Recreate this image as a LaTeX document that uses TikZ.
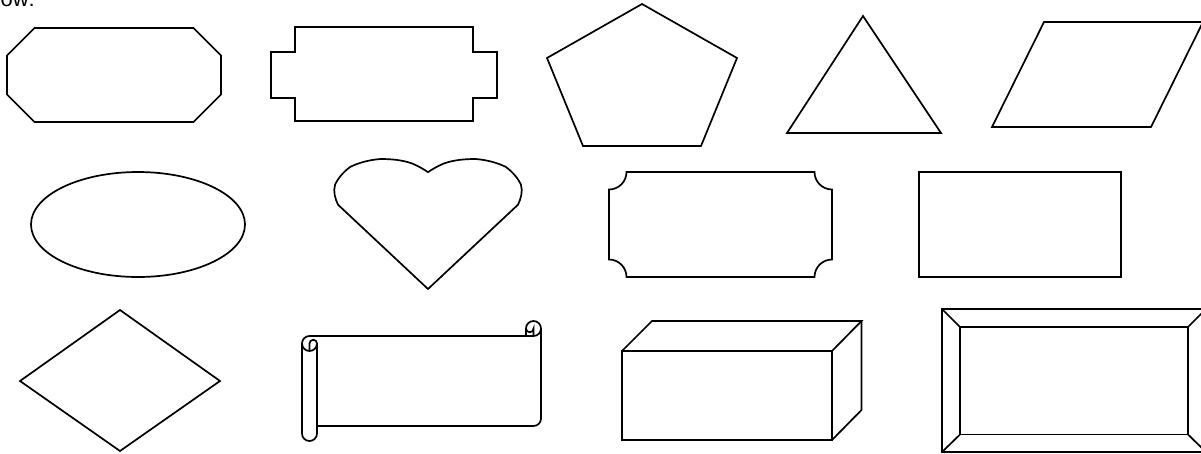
\documentclass[tikz,border=0pt]{standalone}
\usepackage{fontspec}
\setmainfont{Liberation Sans}
\begin{document}
\begin{tikzpicture}[x=1pt,y=-1pt,
  shp/.style={draw=black, line width=1.7pt, line join=miter},
  lbl/.style={inner sep=0pt, font=\fontsize{22}{26}\selectfont}]
\useasboundingbox (0,0) rectangle (1201,453);
\clip (0,0) rectangle (1201,453);
% cropped caption text
\node[lbl, anchor=base east] (txt) at (35,6) {ow:};
% octagon
\draw[shp] (34.5,28) -- (193.5,28) -- (221,55.5) -- (221,94.5) -- (193.5,122) -- (34.5,122) -- (7,94.5) -- (7,55.5) -- cycle;
% notched rectangle
\draw[shp] (295,27) -- (473,27) -- (473,52) -- (497,52) -- (497,98) -- (473,98) -- (473,121) -- (295,121) -- (295,98) -- (271,98) -- (271,52) -- (295,52) -- cycle;
% pentagon
\draw[shp] (642,4) -- (737,58) -- (701,146) -- (583,146) -- (547,58) -- cycle;
% triangle
\draw[shp] (863,16) -- (941,133) -- (787,133) -- cycle;
% parallelogram
\draw[shp] (1044,22) -- (1203,22) -- (1151,127) -- (992,127) -- cycle;
% ellipse
\draw[shp] (138,224.5) ellipse [x radius=107, y radius=52.5];
% heart
\draw[shp] (428,172.2)
  .. controls (424.4,169.5) and (416.4,165.1) .. (411.9,163.4)
  .. controls (401.8,159.9) and (391.5,159) .. (380.4,159)
  .. controls (369.5,159.9) and (359.2,162.5) .. (350.2,166.9)
  .. controls (343.1,172.2) and (338,178.4) .. (335.1,184.4)
  .. controls (333,191.6) and (335.1,198.5) .. (338,204.7)
  -- (428,289) -- (518,204.7)
  .. controls (520.9,198.5) and (523,191.6) .. (520.9,184.4)
  .. controls (518,178.4) and (512.9,172.2) .. (505.8,166.9)
  .. controls (496.8,162.5) and (486.5,159.9) .. (475.6,159)
  .. controls (464.5,159) and (454.2,159.9) .. (444.1,163.4)
  .. controls (439.6,165.1) and (431.6,169.5) .. cycle;
% plaque
\draw[shp] (626.5,172) -- (814.5,172) arc[start angle=180, end angle=90, radius=17.5]
  -- (832,259.5) arc[start angle=270, end angle=180, radius=17.5]
  -- (626.5,277) arc[start angle=0, end angle=-90, radius=17.5]
  -- (609,189.5) arc[start angle=90, end angle=0, radius=17.5] -- cycle;
% rectangle
\draw[shp] (919,172) rectangle (1121,277);
% diamond
\draw[shp] (120,310) -- (220,381) -- (120,451) -- (20,381) -- cycle;
% horizontal scroll
\draw[shp] (302,343.5) arc[start angle=180, end angle=270, radius=7.5] -- (526,336) -- (526,328.5)
  arc[start angle=180, end angle=360, radius=7.5] -- (541,418.5)
  arc[start angle=0, end angle=90, radius=7.5] -- (317,426) -- (317,433.5)
  arc[start angle=0, end angle=180, radius=7.5] -- cycle;
\draw[shp] (526,336) -- (533.5,336) arc[start angle=90, end angle=0, radius=7.5];
\draw[shp] (533.5,336) -- (533.5,328.5) arc[start angle=0, end angle=180, radius=3.75];
\draw[shp] (309.5,351) -- (309.5,343.5) arc[start angle=180, end angle=360, radius=3.75]
  arc[start angle=0, end angle=180, radius=7.5];
\draw[shp] (317,343.5) -- (317,426);
% cube
\draw[shp] (622,351) rectangle (832,440);
\draw[shp] (622,351) -- (652,321) -- (861.5,321) -- (832,351);
\draw[shp] (861.5,321) -- (861.5,410) -- (832,440);
% bevel
\draw[shp] (942,309) rectangle (1206,452);
\draw[shp] (960,327) rectangle (1188,434.5);
\draw[shp] (942,309) -- (960,327);
\draw[shp] (1206,309) -- (1188,327);
\draw[shp] (942,452) -- (960,434.5);
\draw[shp] (1206,452) -- (1188,434.5);
\end{tikzpicture}
\end{document}
